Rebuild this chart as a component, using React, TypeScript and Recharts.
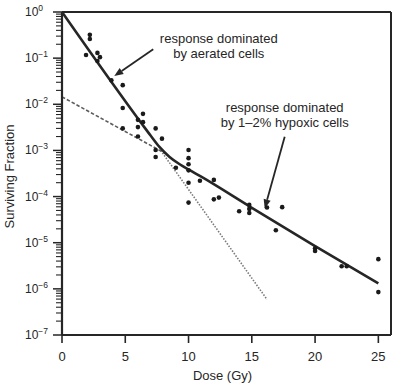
import { ComposedChart, Line, Scatter, XAxis, YAxis, ReferenceLine, ReferenceDot, Label } from 'recharts';

const FONT = '"Liberation Sans", Arial, Helvetica, sans-serif';
const INK = '#262626';

// measured survival points
const pointDose = [1.9, 2.2, 2.2, 2.8, 3.0, 2.8, 3.9, 4.8, 4.8, 6.4, 6.0, 6.4, 4.8, 6.0, 7.4, 6.0, 7.9, 7.4, 7.4, 9.0, 10, 10, 10, 10, 10, 10, 10.9, 12, 12, 12.4, 14, 14.8, 14.8, 14.8, 16.2, 17.4, 16.9, 20, 20, 22.1, 22.5, 25, 25];
const pointFraction = [0.117, 0.32, 0.26, 0.13, 0.105, 0.087, 0.033, 0.026, 0.0083, 0.0062, 0.0046, 0.0041, 0.003, 0.0032, 0.003, 0.002, 0.0018, 0.00102, 0.00072, 0.00042, 0.00102, 0.00068, 0.0005, 0.00037, 0.0002, 0.000074, 0.00022, 0.00023, 0.000087, 0.000095, 0.000048, 0.000066, 0.000054, 0.000044, 0.000058, 0.000059, 0.0000186, 0.0000076, 0.0000066, 0.0000031, 0.0000031, 0.0000044, 0.00000085];

// biphasic fitted curve
const curveDose = [0, 6.3, 7.0, 7.7, 8.5, 9.3, 10.1, 11.0, 14.8, 19.8, 25];
const curveFraction = [1, 0.0038, 0.0021, 0.00119, 0.000724, 0.000501, 0.000372, 0.000269, 0.0000617, 0.0000091, 0.00000132];

// hypoxic component extrapolated back (dashed)
const hypoxicDose = [0, 8.2];
const hypoxicFraction = [0.0145, 0.00085];

// aerated component extended (dotted)
const aeratedDose = [7.8, 16.2];
const aeratedFraction = [0.001, 0.00000059];

const xTicks = [0, 5, 10, 15, 20, 25];
const majorTicks = [1e-7, 1e-6, 1e-5, 1e-4, 1e-3, 1e-2, 1e-1, 1];
const exponentLabels = ['−7', '−6', '−5', '−4', '−3', '−2', '−1', '0'];
const minorSteps = [2, 3, 4, 5, 6, 7, 8, 9];

const yTicks = [
  ...majorTicks,
  ...majorTicks.slice(0, -1).flatMap((d) => minorSteps.map((m) => m * d)),
];

const points = pointDose.map((x, i) => ({ x, y: pointFraction[i] }));
const curve = curveDose.map((x, i) => ({ x, y: curveFraction[i] }));
const hypoxic = hypoxicDose.map((x, i) => ({ x, y: hypoxicFraction[i] }));
const aerated = aeratedDose.map((x, i) => ({ x, y: aeratedFraction[i] }));

const YTick = ({ x, y, payload }: any) => {
  const i = majorTicks.indexOf(payload.value);
  if (i < 0) return <line x1={x - 6} x2={x} y1={y} y2={y} stroke={INK} strokeWidth={1.1} />;
  return (
    <g>
      <line x1={x - 9} x2={x} y1={y} y2={y} stroke={INK} strokeWidth={1.5} />
      <text x={x - 37} y={y + 4} fontSize={12} fill={INK} fontFamily={FONT}>
        10<tspan dy={-5} fontSize={8.5}>{exponentLabels[i]}</tspan>
      </text>
    </g>
  );
};

const Arrow = (p: any) => {
  const { x1, y1, x2, y2 } = p;
  const dx = x2 - x1;
  const dy = y2 - y1;
  const len = Math.hypot(dx, dy);
  const ux = dx / len;
  const uy = dy / len;
  const bx = x2 - ux * 9;
  const by = y2 - uy * 9;
  return (
    <g>
      <line x1={x1} y1={y1} x2={bx} y2={by} stroke={INK} strokeWidth={1.8} />
      <polygon
        points={`${x2},${y2} ${bx - uy * 3.6},${by + ux * 3.6} ${bx + uy * 3.6},${by - ux * 3.6}`}
        fill={INK}
      />
    </g>
  );
};

const note = (lines: string[]) => (p: any) => (
  <text x={p.cx} y={p.cy} textAnchor="middle" fontSize={13} fill={INK} fontFamily={FONT}>
    {lines.map((l, i) => (
      <tspan key={i} x={p.cx} dy={i === 0 ? 0 : 15}>
        {l}
      </tspan>
    ))}
  </text>
);

const Dot = (p: any) => <circle cx={p.cx} cy={p.cy} r={2.3} fill="#1a1a1a" />;

export default function App() {
  return (
    <div style={{ position: 'absolute', left: 0, top: 0, background: '#fff' }}>
      <ComposedChart width={395} height={383} margin={{ top: 12, right: 4, bottom: 0, left: 0 }}>
        <XAxis
          dataKey="x"
          type="number"
          domain={[0, 26]}
          ticks={xTicks}
          allowDataOverflow
          height={48}
          axisLine={{ stroke: INK, strokeWidth: 2.2 }}
          tickLine={{ stroke: INK, strokeWidth: 1.6 }}
          tickSize={8}
          tickMargin={9}
          tick={{ fontSize: 13, fill: INK, fontFamily: FONT }}
        >
          <Label
            content={({ viewBox }: any) => (
              <text x={viewBox.x + viewBox.width / 2 - 4} y={viewBox.y + 45} textAnchor="middle" fontSize={13} fill={INK} fontFamily={FONT}>
                Dose (Gy)
              </text>
            )}
          />
        </XAxis>
        <YAxis
          type="number"
          scale="log"
          domain={[1e-7, 1]}
          ticks={yTicks}
          interval={0}
          allowDataOverflow
          width={62}
          axisLine={{ stroke: INK, strokeWidth: 2.2 }}
          tickLine={false}
          tickSize={0}
          tickMargin={0}
          tick={<YTick />}
        >
          <Label
            content={({ viewBox }: any) => {
              const cx = viewBox.x + 14;
              const cy = viewBox.y + viewBox.height / 2 + 3;
              return (
                <text x={cx} y={cy} transform={`rotate(-90, ${cx}, ${cy})`} textAnchor="middle" fontSize={13} fill={INK} fontFamily={FONT}>
                  Surviving Fraction
                </text>
              );
            }}
          />
        </YAxis>

        <ReferenceLine y={1} stroke={INK} strokeWidth={2} />
        <ReferenceLine x={26} stroke={INK} strokeWidth={2} />

        <Line data={aerated} dataKey="y" stroke="#7a7a7a" strokeWidth={1.6} strokeDasharray="1.5 1.5" dot={false} activeDot={false} isAnimationActive={false} />
        <Line data={hypoxic} dataKey="y" stroke="#5c5c5c" strokeWidth={1.6} strokeDasharray="3.5 2" dot={false} activeDot={false} isAnimationActive={false} />
        <Line data={curve} dataKey="y" type="monotone" stroke={INK} strokeWidth={2.6} dot={false} activeDot={false} isAnimationActive={false} />
        <Scatter data={points} dataKey="y" shape={Dot} isAnimationActive={false} />

        <ReferenceLine segment={[{ x: 7.21, y: 0.155 }, { x: 4.13, y: 0.0409 }]} shape={Arrow} />
        <ReferenceLine segment={[{ x: 17.6, y: 0.00197 }, { x: 16.02, y: 0.0000552 }]} shape={Arrow} />

        <ReferenceDot x={12.39} y={0.218} r={0} shape={note(['response dominated', 'by aerated cells'])} />
        <ReferenceDot x={17.6} y={0.00678} r={0} shape={note(['response dominated', 'by 1–2% hypoxic cells'])} />
      </ComposedChart>
    </div>
  );
}
